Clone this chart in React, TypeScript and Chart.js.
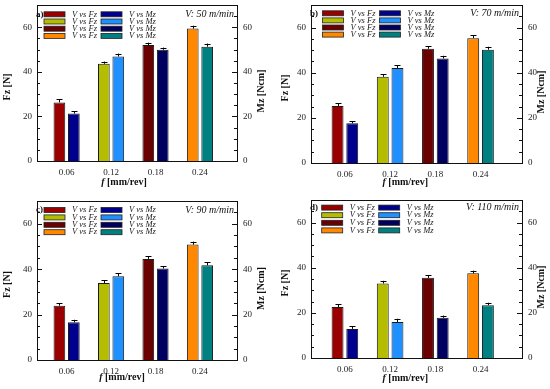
import { useEffect, useRef } from "react";
import { Chart, registerables } from "chart.js";
Chart.register(...registerables);

// ---------- data ----------
const feedRates = [0.06, 0.12, 0.18, 0.24];
const feedLabels = ["0.06", "0.12", "0.18", "0.24"];
const yTickValues = [0, 20, 40, 60];

const fzColors = ["#9B0000", "#B5BD00", "#6B0000", "#FF8800"];
const mzColors = ["#00008F", "#1E90FF", "#000060", "#008080"];

const panelTags = ["a)", "b)", "c)", "d)"];
const speedLabels = ["V: 50 m/min", "V: 70 m/min", "V: 90 m/min", "V: 110 m/min"];
const fzLegend = "V vs Fz";
const mzLegend = "V vs Mz";

const fz50 = [26.3, 43.6, 52.0, 59.4];
const mz50 = [21.3, 46.9, 49.9, 51.3];
const fz70 = [25.3, 38.2, 50.6, 55.3];
const mz70 = [17.6, 42.1, 46.3, 50.2];
const fz90 = [23.9, 33.9, 44.5, 50.8];
const mz90 = [16.6, 36.9, 40.3, 41.7];
const fz110 = [22.6, 33.0, 35.5, 37.5];
const mz110 = [12.9, 16.0, 17.8, 23.4];

const errFz50 = [1.3, 1.0, 1.1, 1.3];
const errMz50 = [1.0, 1.3, 1.0, 1.4];
const errFz70 = [1.3, 1.2, 1.2, 1.3];
const errMz70 = [1.0, 1.3, 1.2, 1.3];
const errFz90 = [1.0, 1.2, 1.2, 1.3];
const errMz90 = [1.1, 1.2, 1.1, 1.3];
const errFz110 = [1.3, 1.2, 1.3, 1.2];
const errMz110 = [1.1, 1.4, 1.0, 1.1];

const fzSeries = [fz50, fz70, fz90, fz110];
const mzSeries = [mz50, mz70, mz90, mz110];
const errFzSeries = [errFz50, errFz70, errFz90, errFz110];
const errMzSeries = [errMz50, errMz70, errMz90, errMz110];

// ---------- layout ----------
const SERIF = "'Liberation Serif', 'Times New Roman', serif";
const panelBoxes = [
  { left: 0, top: 0, w: 275, h: 195 },
  { left: 275, top: 0, w: 275, h: 195 },
  { left: 0, top: 195, w: 275, h: 194 },
  { left: 275, top: 195, w: 275, h: 194 },
];
const layouts = [
  { padTop: 5, leftW: 37, rightW: 38, bottomH: 34, xMin: 0.02, xMax: 0.29, lgX: 7, lgY: 9.3, lgStep: 7.2, xtX: 0.435, xtDY: 21, ylX: 30, yrX: 24 },
  { padTop: 5, leftW: 36, rightW: 28, bottomH: 32, xMin: 0.015, xMax: 0.295, lgX: 11.5, lgY: 8.3, lgStep: 7.1, xtX: 0.447, xtDY: 19, ylX: 26, yrX: 19.5 },
  { padTop: 6, leftW: 37, rightW: 38, bottomH: 29, xMin: 0.02, xMax: 0.29, lgX: 7, lgY: 9, lgStep: 7.4, xtX: 0.425, xtDY: 17, ylX: 29.5, yrX: 24 },
  { padTop: 5, leftW: 36, rightW: 28, bottomH: 31, xMin: 0.015, xMax: 0.295, lgX: 10.7, lgY: 7.6, lgStep: 7.6, xtX: 0.447, xtDY: 20, ylX: 26, yrX: 19.5 },
];

function Panel({ idx }: { idx: number }) {
  const ref = useRef<HTMLCanvasElement>(null);
  useEffect(() => {
    const L = layouts[idx];
    const fz = fzSeries[idx];
    const mz = mzSeries[idx];
    const errs = [errFzSeries[idx], errMzSeries[idx]];
    const vals = [fz, mz];

    const decor = {
      id: "decor" + idx,
      afterDatasetsDraw(chart: any) {
        const ctx = chart.ctx;
        const a = chart.chartArea;
        const sy = chart.scales.y;
        const sy1 = chart.scales.y1;
        ctx.save();
        // error bars
        ctx.strokeStyle = "#000";
        ctx.lineWidth = 1;
        [0, 1].forEach((di) => {
          const meta = chart.getDatasetMeta(di);
          const sc = di === 0 ? sy : sy1;
          meta.data.forEach((el: any, i: number) => {
            const yTop = sc.getPixelForValue(vals[di][i] + errs[di][i]);
            const x = Math.round(el.x) + 0.5;
            ctx.beginPath();
            ctx.moveTo(x, el.y);
            ctx.lineTo(x, yTop);
            ctx.moveTo(x - 3, Math.round(yTop) + 0.5);
            ctx.lineTo(x + 3, Math.round(yTop) + 0.5);
            ctx.stroke();
          });
        });
        // frame
        ctx.strokeStyle = "#111";
        ctx.lineWidth = 1;
        ctx.strokeRect(Math.round(a.left) + 0.5, Math.round(a.top) + 0.5, Math.round(a.right - a.left), Math.round(a.bottom - a.top));
        // inward ticks
        ctx.beginPath();
        for (let v = 5; v < 70; v += 5) {
          const len = v % 20 === 0 ? 5 : 3;
          const py = Math.round(sy.getPixelForValue(v)) + 0.5;
          ctx.moveTo(a.left, py);
          ctx.lineTo(a.left + len, py);
          const py1 = Math.round(sy1.getPixelForValue(v)) + 0.5;
          ctx.moveTo(a.right, py1);
          ctx.lineTo(a.right - len, py1);
        }
        ctx.stroke();
        // legend
        ctx.textBaseline = "middle";
        ctx.textAlign = "left";
        ctx.font = "italic 8.5px " + SERIF;
        for (let i = 0; i < 4; i++) {
          const yc = a.top + L.lgY + i * L.lgStep;
          const x1 = a.left + L.lgX;
          const x2 = x1 + 57;
          ctx.fillStyle = fzColors[i];
          ctx.fillRect(x1, yc - 2.5, 21, 5);
          ctx.strokeStyle = "#222";
          ctx.lineWidth = 0.8;
          ctx.strokeRect(x1, yc - 2.5, 21, 5);
          ctx.fillStyle = "#222";
          ctx.fillText(fzLegend, x1 + 28, yc);
          ctx.fillStyle = mzColors[i];
          ctx.fillRect(x2, yc - 2.5, 21, 5);
          ctx.strokeRect(x2, yc - 2.5, 21, 5);
          ctx.fillStyle = "#222";
          ctx.fillText(mzLegend, x2 + 28, yc);
        }
        // panel tag and speed
        const y0 = a.top + L.lgY;
        ctx.font = "bold 9px " + SERIF;
        ctx.fillStyle = "#111";
        ctx.fillText(panelTags[idx], a.left - 1, y0);
        ctx.font = "italic 10px " + SERIF;
        ctx.textAlign = "right";
        ctx.fillText(speedLabels[idx], a.right - 3, y0);
        // axis titles
        const cy = (a.top + a.bottom) / 2;
        ctx.textAlign = "center";
        ctx.font = "bold 10px " + SERIF;
        ctx.save();
        ctx.translate(a.left - L.ylX, cy + 4);
        ctx.rotate(-Math.PI / 2);
        ctx.fillText("Fz [N]", 0, 0);
        ctx.restore();
        ctx.save();
        ctx.translate(a.right + L.yrX, cy + 8);
        ctx.rotate(-Math.PI / 2);
        ctx.fillText("Mz [Ncm]", 0, 0);
        ctx.restore();
        // x title: italic f + bold [mm/rev]
        const fPart = "f";
        const rest = " [mm/rev]";
        ctx.font = "bold italic 10px " + SERIF;
        const wf = ctx.measureText(fPart).width;
        ctx.font = "bold 10px " + SERIF;
        const wr = ctx.measureText(rest).width;
        const cx = a.left + L.xtX * (a.right - a.left);
        const sx = cx - (wf + wr) / 2;
        const ty = a.bottom + L.xtDY;
        ctx.textAlign = "left";
        ctx.font = "bold italic 10px " + SERIF;
        ctx.fillText(fPart, sx, ty);
        ctx.font = "bold 10px " + SERIF;
        ctx.fillText(rest, sx + wf, ty);
        ctx.restore();
      },
    };

    const tickFont = { family: SERIF, size: 9 };
    const yAxisBase = (pos: string, width: number, pad: number) => ({
      position: pos,
      min: 0,
      max: 70,
      grid: { display: false, drawTicks: false },
      border: { display: false },
      afterBuildTicks: (s: any) => {
        s.ticks = yTickValues.map((v) => ({ value: v }));
      },
      ticks: { font: tickFont, color: "#222", padding: pad },
      afterFit: (s: any) => {
        s.width = width;
        s.paddingTop = 0;
        s.paddingBottom = 0;
      },
    });

    const chart = new Chart(ref.current as HTMLCanvasElement, {
      type: "bar",
      data: {
        datasets: [
          {
            label: fzLegend,
            data: feedRates.map((x, i) => ({ x, y: fz[i] })),
            backgroundColor: fzColors,
            borderColor: "#1a1a1a",
            borderWidth: 1,
            yAxisID: "y",
            categoryPercentage: 0.65,
            barPercentage: 0.81,
          },
          {
            label: mzLegend,
            data: feedRates.map((x, i) => ({ x, y: mz[i] })),
            backgroundColor: mzColors,
            borderColor: "#1a1a1a",
            borderWidth: 1,
            yAxisID: "y1",
            categoryPercentage: 0.65,
            barPercentage: 0.81,
          },
        ],
      } as any,
      options: {
        responsive: false,
        animation: false,
        layout: { padding: { top: L.padTop, left: 0, right: 0, bottom: 0 } },
        plugins: { legend: { display: false }, tooltip: { enabled: false } },
        scales: {
          x: {
            type: "linear",
            min: L.xMin,
            max: L.xMax,
            offset: false,
            grid: { display: false, drawTicks: false },
            border: { display: false },
            afterBuildTicks: (s: any) => {
              s.ticks = feedRates.map((v) => ({ value: v }));
            },
            ticks: {
              font: tickFont,
              color: "#222",
              padding: 6,
              maxRotation: 0,
              autoSkip: false,
              callback: (_v: any, i: number) => feedLabels[i],
            },
            afterFit: (s: any) => {
              s.height = L.bottomH;
              s.paddingLeft = 0;
              s.paddingRight = 0;
            },
          },
          y: yAxisBase("left", L.leftW, 5),
          y1: yAxisBase("right", L.rightW, 6),
        } as any,
      },
      plugins: [decor],
    });
    return () => chart.destroy();
  }, [idx]);
  const b = panelBoxes[idx];
  return (
    <canvas
      ref={ref}
      width={b.w}
      height={b.h}
      style={{ position: "absolute", left: b.left, top: b.top, width: b.w, height: b.h }}
    />
  );
}

export default function App() {
  return (
    <div style={{ position: "absolute", left: 0, top: 0, width: 550, height: 389, background: "#fff" }}>
      {[0, 1, 2, 3].map((i) => (
        <Panel key={i} idx={i} />
      ))}
    </div>
  );
}
